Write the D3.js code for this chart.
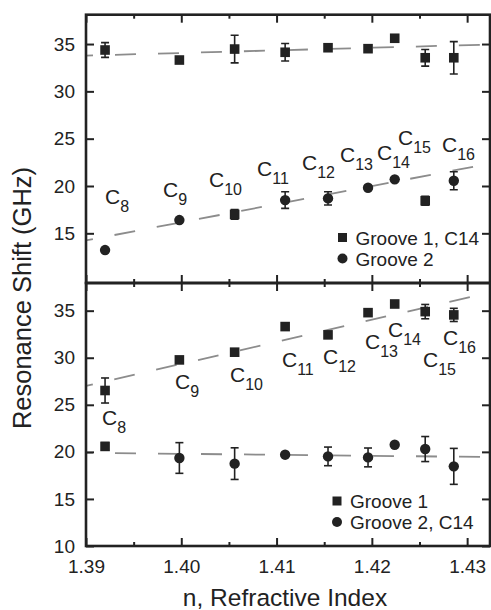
<!DOCTYPE html>
<html>
<head>
<meta charset="utf-8">
<script src="https://cdn.jsdelivr.net/npm/d3@7"></script>
<style>
  body { margin: 0; background: #fff; }
  svg { display: block; }
  text { font-family: "Liberation Sans", Arial, Helvetica, sans-serif; fill: #222; }
</style>
</head>
<body>
<svg id="chart" width="491" height="610"></svg>
<script>
// Refractive index of each alkane C8 ... C16
const refractiveIndex = [1.3920, 1.3998, 1.4056, 1.4109, 1.4154, 1.4196, 1.4224, 1.4256, 1.4286];
const carbonNumber = ["8", "9", "10", "11", "12", "13", "14", "15", "16"];

// Upper panel: groove 1 filled with C14, groove 2 filled with the alkane series
const topGroove1 = [34.37, 33.31, 34.47, 34.13, 34.61, 34.51, 35.61, 33.55, 33.55];
const topGroove1Err = [0.78, 0, 1.46, 0.92, 0, 0, 0, 0.88, 1.71];
const topGroove2 = [13.23, 16.40, 17.00, 18.51, 18.69, 19.81, 20.70, 18.44, 20.55];
const topGroove2Err = [0, 0, 0.5, 0.88, 0.7, 0, 0, 0.48, 0.95];
const topGroove2Shape = ["circle", "circle", "square", "circle", "circle", "circle", "circle", "square", "circle"];

// Lower panel: groove 1 filled with the alkane series, groove 2 filled with C14
const botGroove1 = [26.52, 29.77, 30.59, 33.31, 32.43, 34.79, 35.71, 34.90, 34.55];
const botGroove1Err = [1.33, 0, 0, 0, 0, 0, 0, 0.76, 0.7];
const botGroove2 = [20.58, 19.35, 18.75, 19.70, 19.52, 19.41, 20.76, 20.30, 18.46];
const botGroove2Err = [0.4, 1.63, 1.68, 0, 0.99, 1.0, 0, 1.33, 1.91];
const botGroove2Shape = ["square", "circle", "circle", "circle", "circle", "circle", "circle", "circle", "circle"];

// Linear fits, given at the two ends of the index range
const fitIndex = [1.39, 1.4324];
const topFit1 = [33.78, 34.95];
const topFit2 = [14.25, 22.37];
const botFit1 = [27.0, 36.94];
const botFit2 = [19.9, 19.45];

// Carbon-number annotations (left edge of the "C", baseline) in data units
const topLabelIndex = [1.39199, 1.39808, 1.40291, 1.40795, 1.41267, 1.41666, 1.42054, 1.42275, 1.42736];
const topLabelShift = [18.09, 18.83, 19.88, 21.05, 21.68, 22.53, 22.74, 24.33, 23.59];
const botLabelIndex = [1.39168, 1.39934, 1.40511, 1.41057, 1.41487, 1.41928, 1.42170, 1.42537, 1.42747];
const botLabelShift = [22.88, 26.70, 27.44, 29.03, 29.35, 30.94, 32.21, 29.03, 31.37];

// Axis ticks
const xTicks = [1.39, 1.40, 1.41, 1.42, 1.43];
const xMinorTicks = [1.395, 1.405, 1.415, 1.425];
const yTicksTop = [15, 20, 25, 30, 35];
const yTicksBottom = [10, 15, 20, 25, 30, 35];

// ---- layout ----
const plotLeft = 86, plotRight = 490, plotTop = 14.7, plotMid = 283, plotBottom = 546;
const ink = "#222";

const svg = d3.select("#chart");
const x = d3.scaleLinear().domain([1.39, 1.4324]).range([plotLeft, plotRight]);
const yTop = d3.scaleLinear().domain([9.75, 38.1]).range([plotMid, plotTop]);
const yBot = d3.scaleLinear().domain([10, 37.94]).range([plotBottom, plotMid]);

const defs = svg.append("defs");
defs.append("clipPath").attr("id", "clipTop")
  .append("rect").attr("x", plotLeft).attr("y", plotTop).attr("width", plotRight - plotLeft).attr("height", plotMid - plotTop);
defs.append("clipPath").attr("id", "clipBot")
  .append("rect").attr("x", plotLeft).attr("y", plotMid).attr("width", plotRight - plotLeft).attr("height", plotBottom - plotMid);

function styleAxis(g) {
  g.select(".domain").remove();
  g.selectAll(".tick line").attr("stroke", ink).attr("stroke-width", 2);
  g.selectAll(".tick text").attr("font-size", 19).attr("fill", ink);
}

function drawPanel(y, clipId, fits, series, yTicks, labelIdx, labelShift) {
  const g = svg.append("g");
  const plot = g.append("g").attr("clip-path", `url(#${clipId})`);

  // dashed fit lines
  const line = d3.line().x(d => x(d[0])).y(d => y(d[1]));
  fits.forEach(f => {
    plot.append("path")
      .datum(fitIndex.map((n, i) => [n, f[i]]))
      .attr("d", line)
      .attr("fill", "none")
      .attr("stroke", "#8c8c8c")
      .attr("stroke-width", 1.8)
      .attr("stroke-dasharray", "21 22")
      .attr("stroke-dashoffset", 14);
  });

  // error bars and markers
  series.forEach(s => {
    const pts = refractiveIndex.map((n, i) => ({ n, v: s.values[i], e: s.errors[i], shape: s.shapes[i] }));
    const eb = plot.append("g").attr("stroke", ink).attr("stroke-width", 1.6);
    pts.filter(p => p.e > 0).forEach(p => {
      const cx = x(p.n);
      eb.append("line").attr("x1", cx).attr("x2", cx).attr("y1", y(p.v - p.e)).attr("y2", y(p.v + p.e));
      eb.append("line").attr("x1", cx - 4).attr("x2", cx + 4).attr("y1", y(p.v - p.e)).attr("y2", y(p.v - p.e));
      eb.append("line").attr("x1", cx - 4).attr("x2", cx + 4).attr("y1", y(p.v + p.e)).attr("y2", y(p.v + p.e));
    });
    const mk = plot.append("g").attr("fill", ink);
    pts.forEach(p => {
      if (p.shape === "square") {
        mk.append("rect").attr("x", x(p.n) - 4.8).attr("y", y(p.v) - 4.8).attr("width", 9.6).attr("height", 9.6);
      } else {
        mk.append("circle").attr("cx", x(p.n)).attr("cy", y(p.v)).attr("r", 5.2);
      }
    });
  });

  // carbon-number annotations
  labelIdx.forEach((n, i) => {
    const t = g.append("text")
      .attr("x", x(n)).attr("y", y(labelShift[i]))
      .attr("font-size", 21);
    t.append("tspan").text("C");
    t.append("tspan").attr("font-size", 16).attr("dy", 8).text(carbonNumber[i]);
  });

  // y axes (ticks point inward)
  g.append("g").attr("transform", `translate(${plotLeft},0)`)
    .call(d3.axisLeft(y).tickValues(yTicks).tickSize(-8).tickPadding(11).tickFormat(d3.format("d")))
    .call(styleAxis);
  g.append("g").attr("transform", `translate(${plotRight},0)`)
    .call(d3.axisRight(y).tickValues(yTicks).tickSize(-8).tickFormat(""))
    .call(styleAxis);
  return g;
}

drawPanel(yTop, "clipTop", [topFit1, topFit2], [
  { values: topGroove1, errors: topGroove1Err, shapes: topGroove1.map(() => "square") },
  { values: topGroove2, errors: topGroove2Err, shapes: topGroove2Shape }
], yTicksTop, topLabelIndex, topLabelShift);

drawPanel(yBot, "clipBot", [botFit1, botFit2], [
  { values: botGroove1, errors: botGroove1Err, shapes: botGroove1.map(() => "square") },
  { values: botGroove2, errors: botGroove2Err, shapes: botGroove2Shape }
], yTicksBottom, botLabelIndex, botLabelShift);

// x axes: top and bottom edge of each panel, ticks inward
function xAxis(axisFn, yPos, labelled) {
  svg.append("g").attr("transform", `translate(0,${yPos})`)
    .call(axisFn(x).tickValues(xTicks).tickSize(-8).tickPadding(14)
      .tickFormat(labelled ? d3.format(".2f") : ""))
    .call(styleAxis);
  svg.append("g").attr("transform", `translate(0,${yPos})`)
    .call(axisFn(x).tickValues(xMinorTicks).tickSize(-4).tickFormat(""))
    .call(styleAxis);
}
xAxis(d3.axisTop, plotTop, false);
xAxis(d3.axisBottom, plotMid, false);
xAxis(d3.axisTop, plotMid, false);
xAxis(d3.axisBottom, plotBottom, true);

// panel frames
svg.append("rect").attr("x", plotLeft).attr("y", plotTop).attr("width", plotRight - plotLeft).attr("height", plotMid - plotTop)
  .attr("fill", "none").attr("stroke", ink).attr("stroke-width", 2.6);
svg.append("rect").attr("x", plotLeft).attr("y", plotMid).attr("width", plotRight - plotLeft).attr("height", plotBottom - plotMid)
  .attr("fill", "none").attr("stroke", ink).attr("stroke-width", 2.6);

// legends
function legend(x0, y0, items) {
  const g = svg.append("g").attr("transform", `translate(${x0},${y0})`);
  items.forEach((it, i) => {
    const cy = i * 21;
    if (it.shape === "square") {
      g.append("rect").attr("x", -4.5).attr("y", cy - 4.5).attr("width", 9).attr("height", 9).attr("fill", ink);
    } else {
      g.append("circle").attr("cx", 0).attr("cy", cy).attr("r", 5).attr("fill", ink);
    }
    g.append("text").attr("x", 13).attr("y", cy + 7).attr("font-size", 19).text(it.label);
  });
}
legend(342.5, 237.5, [{ shape: "square", label: "Groove 1, C14" }, { shape: "circle", label: "Groove 2" }]);
legend(337, 501, [{ shape: "square", label: "Groove 1" }, { shape: "circle", label: "Groove 2, C14" }]);

// axis titles
svg.append("text").attr("x", 285).attr("y", 606)
  .attr("text-anchor", "middle").attr("font-size", 24.5).text("n, Refractive Index");
svg.append("text").attr("transform", "translate(31,298) rotate(-90)")
  .attr("text-anchor", "middle").attr("font-size", 25.5).text("Resonance Shift (GHz)");
</script>
</body>
</html>
